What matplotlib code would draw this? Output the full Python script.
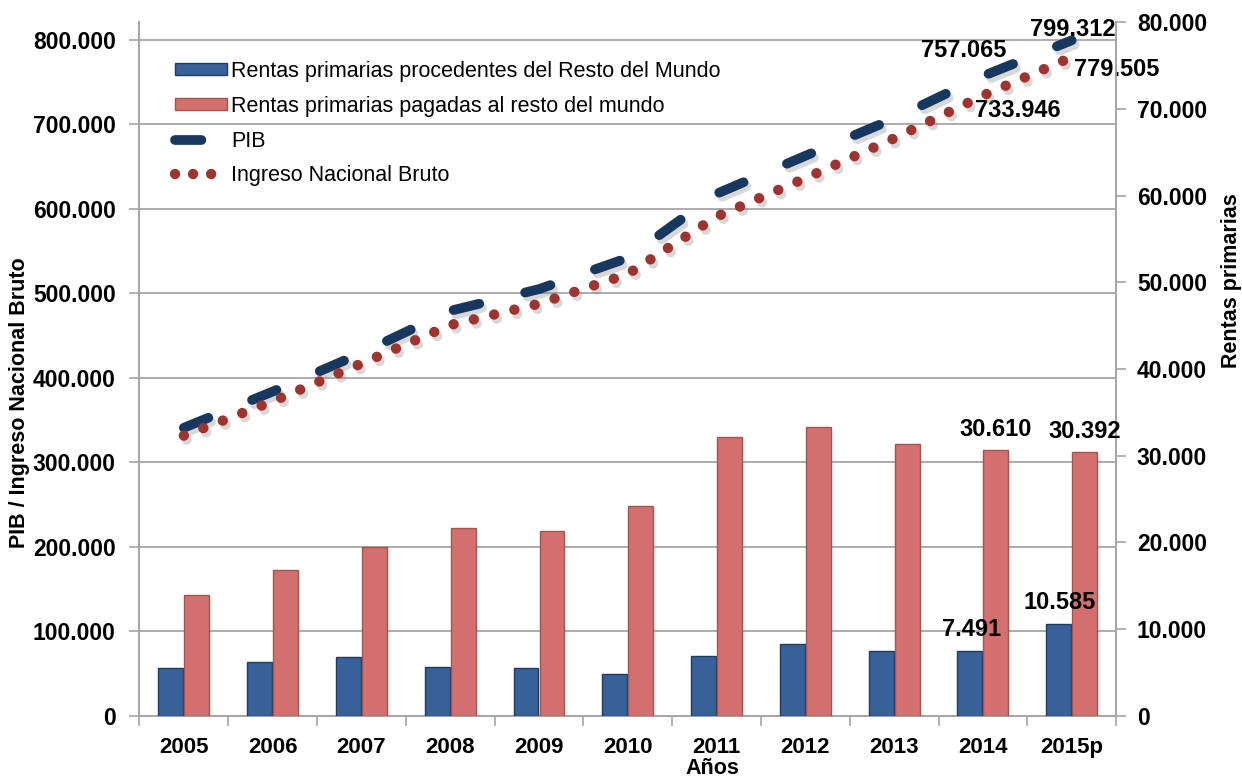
import matplotlib
matplotlib.use("Agg")
import matplotlib.pyplot as plt
import matplotlib.patheffects as pe
from matplotlib.patches import Patch
from matplotlib.lines import Line2D
from matplotlib.ticker import FuncFormatter, FixedLocator
import numpy as np

plt.rcParams['font.family'] = ['Liberation Sans', 'DejaVu Sans']
plt.rcParams['lines.scale_dashes'] = False

# data
years = ['2005', '2006', '2007', '2008', '2009', '2010', '2011', '2012', '2013', '2014', '2015p']
pib = [341000, 383800, 429300, 479300, 505000, 542000, 617800, 662700, 706800, 757065, 799312]
inb = [331700, 372300, 417000, 462500, 487700, 522900, 590800, 636200, 683400, 733946, 779505]
rentas_proc = [5500, 6260, 6840, 5680, 5500, 4840, 6950, 8260, 7530, 7491, 10585]
rentas_pag = [13950, 16830, 19500, 21700, 21360, 24200, 32200, 33350, 31350, 30610, 30392]

blue = '#38619A'
blue_edge = '#1F3B62'
red = '#D3706D'
red_edge = '#A65250'
navy = '#17375E'
dot_red = '#9E3430'
grid_c = '#A6A6A6'


def miles(v, pos=None):
    return f"{v:,.0f}".replace(',', '.')


fig = plt.figure(figsize=(12.42, 7.78), dpi=100)
ax = fig.add_axes([0.1123, 0.0797, 0.7863, 0.892])
ax2 = ax.twinx()

x = np.arange(len(years))
w = 0.28

# bars on the right axis (Rentas primarias)
ax2.bar(x - 0.146, rentas_proc, w, color=blue, edgecolor=blue_edge, linewidth=1.0, zorder=3)
ax2.bar(x + 0.146, rentas_pag, w, color=red, edgecolor=red_edge, linewidth=1.0, zorder=3)

shadow = [pe.SimpleLineShadow(offset=(2, -3), shadow_color='gray', alpha=0.3), pe.Normal()]

# lines on the left axis
ax.plot(x, pib, color=navy, linewidth=7, dashes=(19, 34), solid_capstyle='round',
        dash_capstyle='round', path_effects=shadow, zorder=4)
ax.plot(x, inb, color=dot_red, linewidth=7.5, dashes=(0.01, 15), dash_capstyle='round',
        path_effects=shadow, zorder=4)

ax.set_xlim(-0.5, len(years) - 0.5)
ax.set_ylim(0, 821000)
ax2.set_ylim(0, 80000)

ax.yaxis.set_major_locator(FixedLocator(np.arange(0, 800001, 100000)))
ax2.yaxis.set_major_locator(FixedLocator(np.arange(0, 80001, 10000)))
ax.yaxis.set_major_formatter(FuncFormatter(miles))
ax2.yaxis.set_major_formatter(FuncFormatter(miles))

ax.set_xticks(x)
ax.set_xticklabels(years)
ax.set_xticks(np.arange(-0.5, len(years), 1), minor=True)
ax.tick_params(axis='x', which='major', length=0, pad=15, labelsize=16)
ax.tick_params(axis='x', which='minor', length=7, color=grid_c, width=1.2, direction='out')
for lab in ax.get_xticklabels():
    lab.set_fontweight('bold')

ax.tick_params(axis='y', length=7, color=grid_c, width=1.2, pad=10, labelsize=16.5)
ax2.tick_params(axis='y', length=7, color=grid_c, width=1.2, pad=8, labelsize=16.5)
for lab in ax.get_yticklabels() + ax2.get_yticklabels():
    lab.set_fontweight('bold')

ax.grid(axis='y', color=grid_c, linewidth=1.3)
ax.set_axisbelow(True)

for a in (ax, ax2):
    a.spines['top'].set_visible(False)
    for s in ('left', 'right', 'bottom'):
        a.spines[s].set_color(grid_c)
        a.spines[s].set_linewidth(1.3)

# axis titles
fig.text(20 / 1242, 1 - 403 / 778, 'PIB / Ingreso Nacional Bruto', rotation=90,
         ha='center', va='center', fontsize=15.5, fontweight='bold')
fig.text(1232 / 1242, 1 - 281 / 778, 'Rentas primarias', rotation=90,
         ha='center', va='center', fontsize=15.5, fontweight='bold')
fig.text(712 / 1242, 1 - 768 / 778, 'Años', ha='center', va='center',
         fontsize=15.5, fontweight='bold')

# data labels
lbl = dict(fontsize=17, fontweight='bold', textcoords='offset points')
ax.annotate(miles(pib[10]), (10, pib[10]), xytext=(1, 8), ha='center', va='center', **lbl)
ax.annotate(miles(pib[9]), (9, pib[9]), xytext=(-14, 10), ha='center', va='bottom', **lbl)
ax.annotate(miles(inb[10]), (10, inb[10]), xytext=(2, -9), ha='left', va='center', **lbl)
ax.annotate(miles(inb[9]), (9, inb[9]), xytext=(-6, -11), ha='left', va='center', **lbl)
for i in (9, 10):
    ax2.annotate(miles(rentas_pag[i]), (i + 0.146, rentas_pag[i]), xytext=(0, 7),
                 ha='center', va='bottom', **lbl)
    ax2.annotate(miles(rentas_proc[i]), (i - 0.146, rentas_proc[i]), xytext=(1, 7),
                 ha='center', va='bottom', **lbl)

# legend
handles = [
    Patch(facecolor=blue, edgecolor=blue_edge),
    Patch(facecolor=red, edgecolor=red_edge),
    Line2D([], [], color=navy, linewidth=7, dashes=(19, 34), dash_capstyle='round'),
    Line2D([], [], color=dot_red, linewidth=7.5, dashes=(0.01, 13), dash_capstyle='round'),
]
labels = ['Rentas primarias procedentes del Resto del Mundo',
          'Rentas primarias pagadas al resto del mundo',
          'PIB', 'Ingreso Nacional Bruto']
fig.legend(handles, labels, loc='upper left', bbox_to_anchor=(175 / 1242, 1 - 61 / 778),
           frameon=False, fontsize=15.5, handlelength=2.4, handleheight=0.5,
           handletextpad=0.19, labelspacing=0.64, borderpad=0, borderaxespad=0)

fig.savefig('out.png', dpi=100)
